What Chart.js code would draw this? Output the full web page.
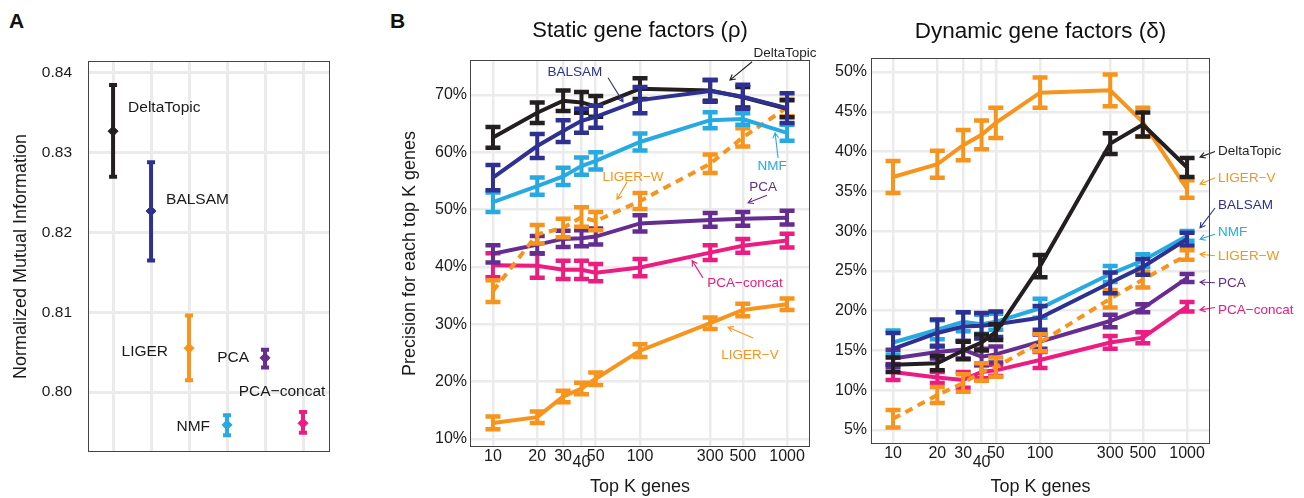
<!DOCTYPE html>
<html>
<head>
<meta charset="utf-8">
<script src="https://cdn.jsdelivr.net/npm/chart.js@4.4.1/dist/chart.umd.min.js"></script>
<style>
  body { margin: 0; background: #fff; width: 1304px; height: 498px; overflow: hidden; position: relative; }
  canvas { position: absolute; top: 0; }
  #panelA { left: 0; }
  #panelB { left: 385px; }
  #panelC { left: 820px; }
  .tag { position: absolute; top: 10px; font: bold 21px/21px "Liberation Sans", Arial, sans-serif; color: #111; }
</style>
</head>
<body>
<div class="tag" style="left:9px">A</div>
<div class="tag" style="left:390px">B</div>
<canvas id="panelA" width="380" height="498"></canvas>
<canvas id="panelB" width="435" height="498"></canvas>
<canvas id="panelC" width="484" height="498"></canvas>
<script>
// ---- data: panel A (NMI per method) ----
const methodsA = ['DeltaTopic', 'BALSAM', 'LIGER', 'NMF', 'PCA', 'PCA−concat'];
const nmiMean = [0.8327, 0.8227, 0.8055, 0.7959, 0.8043, 0.7961];
const nmiLow  = [0.8270, 0.8165, 0.8015, 0.7946, 0.8031, 0.7949];
const nmiHigh = [0.8385, 0.8288, 0.8096, 0.7971, 0.8053, 0.7975];
const nmiTicks = [0.80, 0.81, 0.82, 0.83, 0.84];

// ---- data: panels B and C (precision at top K) ----
const topK = [10, 20, 30, 40, 50, 100, 300, 500, 1000];
const staticTicks = [10, 20, 30, 40, 50, 60, 70];
const dynamicTicks = [5, 10, 15, 20, 25, 30, 35, 40, 45, 50];

// static gene factors (rho)
const sDelta     = [62.6, 66.9, 69.0, 68.7, 68.0, 71.1, 70.8, 69.6, 67.6];
const sDeltaErr  = [1.8, 1.8, 1.8, 1.8, 1.8, 1.8, 1.8, 1.8, 1.5];
const sBalsam    = [55.6, 61.1, 63.7, 65.5, 66.2, 69.1, 70.7, 69.7, 67.7];
const sBalsamErr = [2.2, 2.1, 1.9, 2.1, 1.9, 2.3, 1.9, 2.1, 2.6];
const sNmf       = [51.3, 54.1, 55.8, 57.6, 58.5, 61.8, 65.6, 65.8, 63.4];
const sNmfErr    = [1.7, 1.5, 1.5, 1.5, 1.5, 1.5, 1.4, 1.0, 1.4];
const sLigerW    = [35.8, 45.7, 46.8, 48.7, 48.0, 51.5, 58.0, 62.6, 67.8];
const sLigerWErr = [1.9, 1.6, 1.6, 1.7, 1.6, 1.4, 1.6, 1.6, 1.5];
const sPca       = [42.3, 43.9, 44.9, 45.0, 45.3, 47.6, 48.2, 48.4, 48.6];
const sPcaErr    = [1.5, 1.5, 1.4, 1.4, 1.4, 1.4, 1.2, 1.2, 1.2];
const sPcaC      = [40.3, 40.2, 39.5, 39.5, 39.0, 39.9, 42.5, 43.7, 44.6];
const sPcaCErr   = [2.1, 2.1, 1.6, 1.6, 1.5, 1.5, 1.3, 1.2, 1.2];
const sLigerV    = [12.8, 13.8, 17.4, 18.8, 20.5, 25.4, 30.2, 32.5, 33.5];
const sLigerVErr = [1.1, 1.0, 1.0, 1.0, 1.1, 1.1, 1.0, 1.1, 1.0];

// dynamic gene factors (delta)
const dDelta     = [13.2, 13.4, 15.0, 16.0, 17.3, 25.6, 41.0, 43.4, 38.0];
const dDeltaErr  = [0.9, 0.9, 1.1, 1.0, 1.0, 1.4, 1.3, 1.5, 1.2];
const dBalsam    = [15.2, 17.2, 18.0, 18.1, 18.3, 19.1, 23.5, 25.5, 29.0];
const dBalsamErr = [2.0, 1.7, 1.8, 1.6, 1.6, 1.5, 1.3, 1.0, 0.8];
const dNmf       = [16.0, 17.6, 18.6, 18.3, 18.6, 20.3, 24.6, 26.3, 29.4];
const dNmfErr    = [1.5, 1.2, 1.2, 1.2, 1.0, 1.2, 1.0, 0.8, 0.6];
const dLigerW    = [6.4, 9.4, 10.9, 12.3, 12.9, 16.0, 21.5, 23.9, 27.0];
const dLigerWErr = [1.1, 1.0, 1.1, 1.1, 1.2, 1.1, 1.1, 1.0, 0.6];
const dPca       = [14.0, 14.8, 15.1, 14.2, 14.5, 16.1, 18.7, 20.3, 24.1];
const dPcaErr    = [1.1, 0.8, 1.1, 1.0, 1.0, 0.9, 0.8, 0.5, 0.5];
const dPcaC      = [12.3, 11.6, 11.3, 12.3, 12.5, 13.8, 16.0, 16.6, 20.5];
const dPcaCErr   = [1.0, 0.7, 1.0, 0.8, 0.7, 1.0, 0.8, 0.7, 0.6];
const dLigerV    = [36.8, 38.4, 40.8, 42.1, 43.6, 47.4, 47.7, 43.7, 35.3];
const dLigerVErr = [2.0, 1.7, 1.9, 1.8, 1.9, 1.9, 2.0, 1.8, 1.1];

const C = {
  delta: '#231f20', balsam: '#2e3192', nmf: '#27aae1',
  liger: '#f7941d', pca: '#662d91', pcac: '#ec1c80'
};
const FONT = '"Liberation Sans", Arial, Helvetica, sans-serif';
Chart.defaults.font.family = FONT;
Chart.defaults.color = '#1a1a1a';
Chart.defaults.animation = false;

// error bars drawn through the y scale
const errorBars = {
  id: 'errorBars',
  afterDatasetDraw(chart, args, opts) {
    const ds = chart.data.datasets[args.index];
    if (!ds.errorLow) return;
    const ys = chart.scales.y, ctx = chart.ctx;
    ctx.save();
    ctx.lineCap = 'butt';
    args.meta.data.forEach((pt, i) => {
      const col = Array.isArray(ds.borderColor) ? ds.borderColor[i] : ds.borderColor;
      const y1 = ys.getPixelForValue(ds.errorLow[i]);
      const y2 = ys.getPixelForValue(ds.errorHigh[i]);
      ctx.strokeStyle = col;
      ctx.lineWidth = opts.width;
      ctx.beginPath();
      ctx.moveTo(pt.x, y1); ctx.lineTo(pt.x, y2);
      ctx.stroke();
      ctx.lineWidth = opts.capWidth;
      ctx.beginPath();
      ctx.moveTo(pt.x - opts.cap, y1); ctx.lineTo(pt.x + opts.cap, y1);
      ctx.moveTo(pt.x - opts.cap, y2); ctx.lineTo(pt.x + opts.cap, y2);
      ctx.stroke();
    });
    ctx.restore();
  }
};

// panel border
const frame = {
  id: 'frame',
  afterDraw(chart) {
    const { left, top, right, bottom } = chart.chartArea, ctx = chart.ctx;
    ctx.save();
    ctx.strokeStyle = '#444';
    ctx.lineWidth = 1;
    ctx.strokeRect(Math.round(left) + 0.5, Math.round(top) + 0.5, Math.round(right - left) - 1, Math.round(bottom - top) - 1);
    ctx.restore();
  }
};

function drawArrow(ctx, x1, y1, x2, y2) {
  const a = Math.atan2(y2 - y1, x2 - x1), h = 6;
  ctx.beginPath();
  ctx.moveTo(x1, y1); ctx.lineTo(x2, y2);
  ctx.moveTo(x2 - h * Math.cos(a - 0.5), y2 - h * Math.sin(a - 0.5));
  ctx.lineTo(x2, y2);
  ctx.lineTo(x2 - h * Math.cos(a + 0.5), y2 - h * Math.sin(a + 0.5));
  ctx.stroke();
}

// method labels with arrows, anchored in data coordinates
const notes = {
  id: 'notes',
  afterDatasetsDraw(chart, args, opts) {
    const xs = chart.scales.x, ys = chart.scales.y, ctx = chart.ctx;
    ctx.save();
    ctx.font = opts.font;
    ctx.textBaseline = 'middle';
    (opts.items || []).forEach(n => {
      ctx.fillStyle = n.color;
      ctx.strokeStyle = n.color;
      ctx.lineWidth = 1.1;
      ctx.textAlign = n.align || 'center';
      ctx.fillText(n.text, xs.getPixelForValue(n.at[0]), ys.getPixelForValue(n.at[1]));
      if (n.from) {
        drawArrow(ctx, xs.getPixelForValue(n.from[0]), ys.getPixelForValue(n.from[1]),
                       xs.getPixelForValue(n.to[0]), ys.getPixelForValue(n.to[1]));
      }
    });
    ctx.restore();
  }
};

// panel A labels placed beside each point (pixel offsets)
const labelOffsetsA = [[15, -24, 'left'], [15, -11, 'left'], [-21, 3, 'right'], [-17, 2, 'right'], [-16, 0, 'right'], [-21, -32, 'center']];
const pointLabels = {
  id: 'pointLabels',
  afterDatasetsDraw(chart) {
    const ctx = chart.ctx, meta = chart.getDatasetMeta(0);
    ctx.save();
    ctx.font = '15.5px ' + FONT;
    ctx.fillStyle = '#1a1a1a';
    ctx.textBaseline = 'middle';
    meta.data.forEach((pt, i) => {
      const o = labelOffsetsA[i];
      ctx.textAlign = o[2];
      ctx.fillText(methodsA[i], pt.x + o[0], pt.y + o[1]);
    });
    ctx.restore();
  }
};

const gridStyle = { color: '#ebebeb', lineWidth: 2.5, drawTicks: false };

// ---------- Panel A ----------
const colorsA = [C.delta, C.balsam, C.liger, C.nmf, C.pca, C.pcac];
new Chart(document.getElementById('panelA'), {
  type: 'scatter',
  data: {
    datasets: [{
      data: nmiMean.map((v, i) => ({ x: i + 1, y: v })),
      borderColor: colorsA,
      backgroundColor: colorsA,
      pointStyle: 'rectRot',
      pointRadius: 5,
      pointBorderWidth: 1,
      errorLow: nmiLow,
      errorHigh: nmiHigh
    }]
  },
  options: {
    responsive: false,
    layout: { padding: { left: 0, right: 50, top: 61, bottom: 0 } },
    plugins: { legend: { display: false }, tooltip: { enabled: false }, errorBars: { width: 4, capWidth: 4, cap: 4 } },
    scales: {
      x: {
        type: 'linear', min: 0.34, max: 6.71,
        afterBuildTicks: a => { a.ticks = methodsA.map((m, i) => ({ value: i + 1 })); },
        ticks: { display: false },
        grid: { color: '#ebebeb', lineWidth: 3, drawTicks: false },
        border: { display: false },
        afterFit: a => { a.height = 46; }
      },
      y: {
        min: 0.7925, max: 0.8415,
        afterBuildTicks: a => { a.ticks = nmiTicks.map(v => ({ value: v })); },
        ticks: { font: { size: 15.5 }, color: '#1a1a1a', padding: 16, callback: v => v.toFixed(2) },
        grid: { color: '#ebebeb', lineWidth: 3, drawTicks: false },
        border: { display: false },
        title: { display: true, text: 'Normalized Mutual Information', font: { size: 18 }, color: '#1a1a1a', padding: { top: 10, bottom: 0 } },
        afterFit: a => { a.width = 88; }
      }
    }
  },
  plugins: [errorBars, pointLabels, frame]
});

// ---------- Panels B and C ----------
function series(vals, errs, color, dashed) {
  return {
    data: topK.map((k, i) => ({ x: k, y: vals[i] })),
    errorLow: vals.map((v, i) => v - errs[i]),
    errorHigh: vals.map((v, i) => v + errs[i]),
    borderColor: color,
    backgroundColor: color,
    borderWidth: 4,
    borderDash: dashed ? [8, 6] : [],
    pointRadius: 0,
    tension: 0,
    fill: false
  };
}

function kAxis(min, max, padTop, height, fortyLine) {
  return {
    type: 'logarithmic', min: min, max: max,
    afterBuildTicks: a => { a.ticks = topK.map(v => ({ value: v })); },
    ticks: {
      autoSkip: false, maxRotation: 0, padding: padTop, color: '#1a1a1a',
      font: c => ({ size: 16, lineHeight: (c.tick && c.tick.value === 40) ? fortyLine : 1.2 }),
      callback: v => String(v)
    },
    grid: gridStyle,
    border: { display: false },
    title: { display: true, text: 'Top K genes', font: { size: 18 }, color: '#1a1a1a', padding: { top: 0, bottom: 0 } },
    afterFit: a => { a.height = height; }
  };
}

function pctAxis(min, max, tickList, width, pad, titleText) {
  return {
    min: min, max: max,
    afterBuildTicks: a => { a.ticks = tickList.map(v => ({ value: v })); },
    ticks: { font: { size: 16 }, color: '#1a1a1a', padding: pad, callback: v => v + '%' },
    grid: gridStyle,
    border: { display: false },
    title: { display: !!titleText, text: titleText || '', font: { size: 18 }, color: '#1a1a1a', padding: { top: 14, bottom: 0 } },
    afterFit: a => { a.width = width; }
  };
}

const noteFont = '13.5px ' + FONT;
const barStyle = { width: 4, capWidth: 4.5, cap: 7.5 };

new Chart(document.getElementById('panelB'), {
  type: 'line',
  data: {
    datasets: [
      series(sBalsam, sBalsamErr, C.balsam),
      series(sDelta, sDeltaErr, C.delta),
      series(sNmf, sNmfErr, C.nmf),
      series(sLigerW, sLigerWErr, C.liger, true),
      series(sPca, sPcaErr, C.pca),
      series(sPcaC, sPcaCErr, C.pcac),
      series(sLigerV, sLigerVErr, C.liger)
    ]
  },
  options: {
    responsive: false,
    layout: { padding: { left: 0, right: 10, top: 0, bottom: 0 } },
    plugins: {
      legend: { display: false }, tooltip: { enabled: false },
      title: { display: true, fullSize: false, text: 'Static gene factors (ρ)', font: { size: 22, weight: 'normal' }, color: '#111', padding: { top: 18, bottom: 15.6 } },
      errorBars: barStyle,
      notes: {
        font: noteFont,
        items: [
          { text: 'DeltaTopic', color: C.delta, at: [969, 77.2], from: [578, 75.8], to: [409, 72.6] },
          { text: 'BALSAM', color: C.balsam, at: [36.1, 74.0], from: [60.6, 73.0], to: [76.6, 68.8] },
          { text: 'NMF', color: C.nmf, at: [790, 57.6], from: [869, 59.0], to: [829, 63.4] },
          { text: 'LIGER−W', color: C.liger, at: [89.6, 55.7], from: [81.6, 54.8], to: [69.8, 51.8] },
          { text: 'PCA', color: C.pca, at: [687, 53.9], from: [731, 52.5], to: [543, 51.2] },
          { text: 'PCA−concat', color: C.pcac, at: [518, 37.2], from: [268, 38.1], to: [226, 41.1] },
          { text: 'LIGER−V', color: C.liger, at: [560, 24.6], from: [588, 27.6], to: [397, 29.5] }
        ]
      }
    },
    scales: {
      x: kAxis(6.98, 1432, 0, 51, 2.0),
      y: pctAxis(8.6, 76.1, staticTicks, 85, 3, 'Precision for each top K genes')
    }
  },
  plugins: [errorBars, notes, frame]
});

new Chart(document.getElementById('panelC'), {
  type: 'line',
  data: {
    datasets: [
      series(dDelta, dDeltaErr, C.delta),
      series(dBalsam, dBalsamErr, C.balsam),
      series(dNmf, dNmfErr, C.nmf),
      series(dLigerW, dLigerWErr, C.liger, true),
      series(dPca, dPcaErr, C.pca),
      series(dPcaC, dPcaCErr, C.pcac),
      series(dLigerV, dLigerVErr, C.liger)
    ]
  },
  options: {
    responsive: false,
    layout: { padding: { left: 0, right: 94, top: 0, bottom: 0 } },
    plugins: {
      legend: { display: false }, tooltip: { enabled: false },
      title: { display: true, fullSize: false, text: 'Dynamic gene factors (δ)', font: { size: 22.5, weight: 'normal' }, color: '#111', padding: { top: 18, bottom: 13 } },
      errorBars: barStyle,
      notes: {
        font: noteFont,
        items: [
          { text: 'DeltaTopic', color: C.delta, align: 'left', at: [1626, 40.0], from: [1549, 40.0], to: [1225, 39.3] },
          { text: 'LIGER−V', color: C.liger, align: 'left', at: [1626, 36.7], from: [1549, 36.7], to: [1225, 35.9] },
          { text: 'BALSAM', color: C.balsam, align: 'left', at: [1626, 33.3], from: [1549, 32.9], to: [1225, 30.4] },
          { text: 'NMF', color: C.nmf, align: 'left', at: [1626, 29.9], from: [1549, 29.6], to: [1225, 29.0] },
          { text: 'LIGER−W', color: C.liger, align: 'left', at: [1626, 26.8], from: [1549, 26.9], to: [1225, 27.1] },
          { text: 'PCA', color: C.pca, align: 'left', at: [1626, 23.5], from: [1549, 23.5], to: [1225, 23.6] },
          { text: 'PCA−concat', color: C.pcac, align: 'left', at: [1626, 20.0], from: [1549, 20.4], to: [1225, 20.1] }
        ]
      }
    },
    scales: {
      x: kAxis(7.08, 1432, 0, 54, 2.3),
      y: pctAxis(3.24, 51.76, dynamicTicks, 51, 4, '')
    }
  },
  plugins: [errorBars, notes, frame]
});
</script>
</body>
</html>
